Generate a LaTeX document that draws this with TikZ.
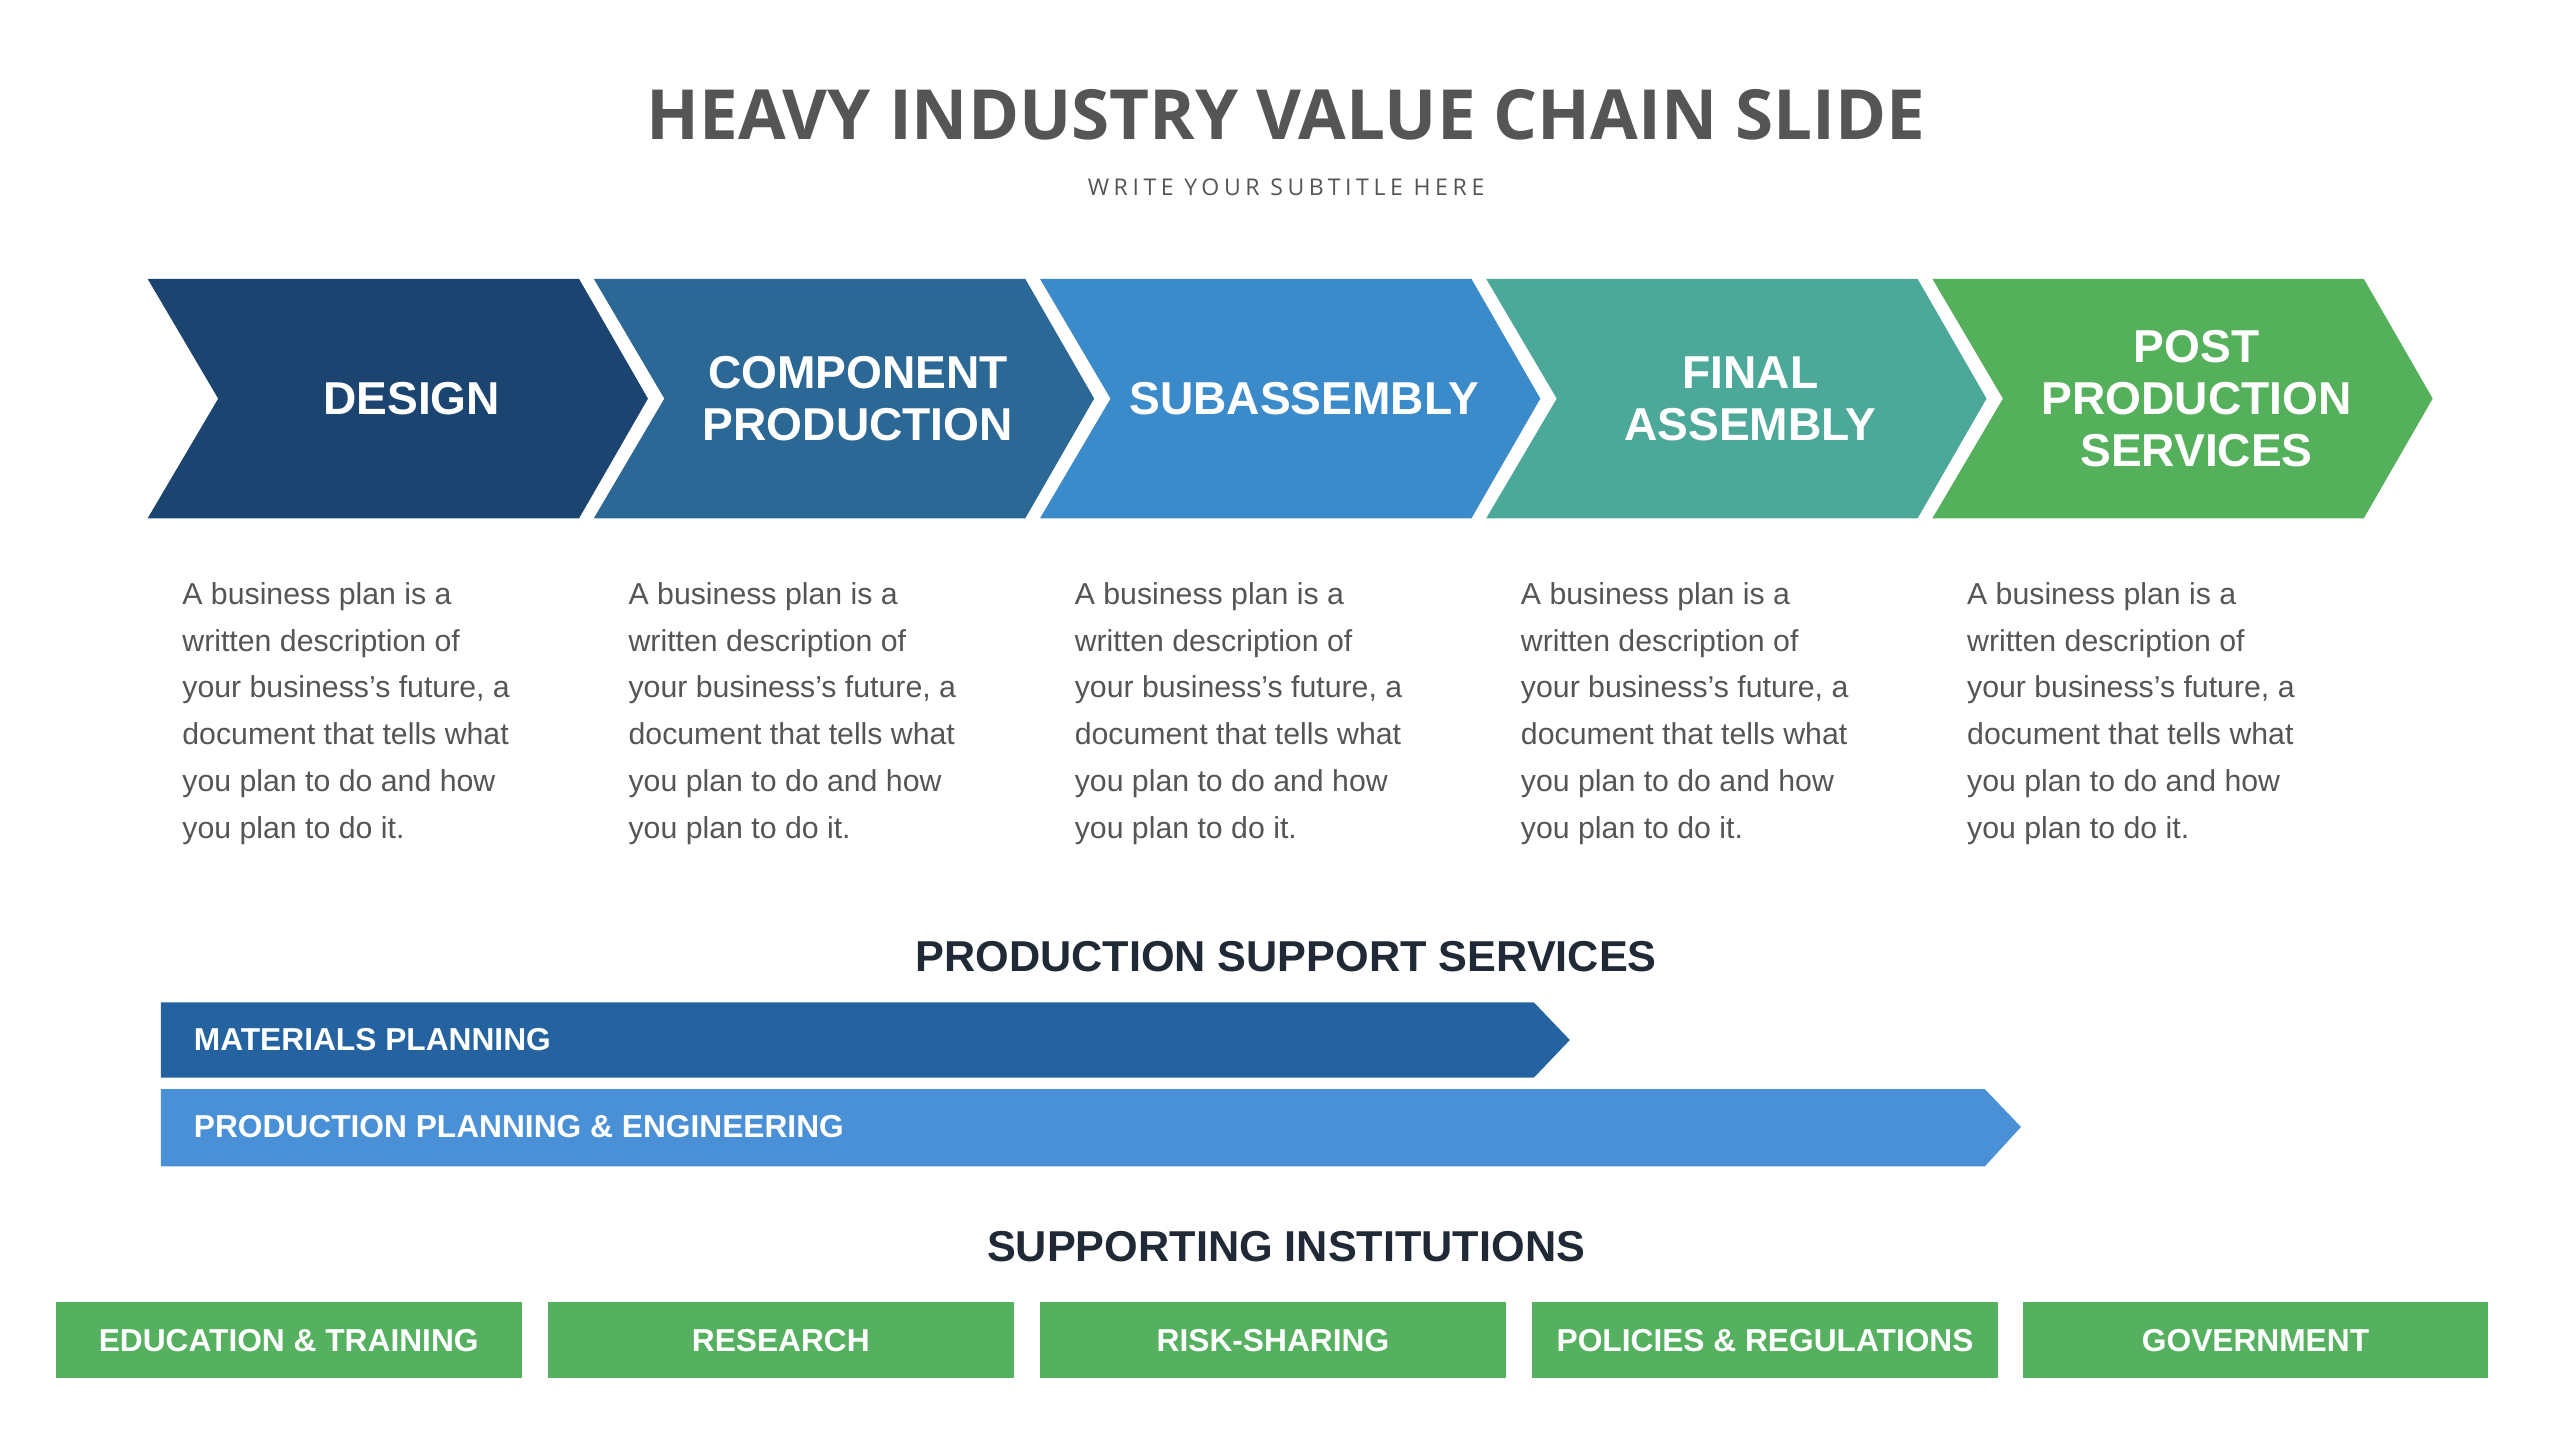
\documentclass[tikz,border=0pt]{standalone}
\usepackage{fontspec}
\setmainfont{Liberation Sans}
\newfontfamily\titlefont{Open Sans}
\usepackage{xcolor}
\usepackage{tikz}
\definecolor{cA}{HTML}{1B4470}
\definecolor{cB}{HTML}{2C6896}
\definecolor{cC}{HTML}{3B8BCB}
\definecolor{cD}{HTML}{4CA99A}
\definecolor{cE}{HTML}{55B05B}
\definecolor{barA}{HTML}{2563A0}
\definecolor{barB}{HTML}{4A90D6}
\definecolor{boxG}{HTML}{55B15F}
\definecolor{bodyGray}{HTML}{555555}
\definecolor{headDark}{HTML}{1F2A36}
\tikzset{
  steplabel/.style={text=white,font=\fontsize{16}{18}\selectfont\bfseries,align=center},
  bodytext/.style={text=bodyGray,font=\fontsize{10.5}{16.2}\selectfont,align=left,anchor=north west},
  barlabel/.style={text=white,font=\fontsize{11}{13}\selectfont\bfseries,anchor=west},
  heading/.style={text=headDark,font=\fontsize{15}{17}\selectfont\bfseries},
  instbox/.style={fill=boxG,text=white,font=\fontsize{11}{13}\selectfont\bfseries,minimum width=284*0.02cm,minimum height=46*0.02cm,inner sep=0pt}
}
\begin{document}
\begin{tikzpicture}[x=0.02cm,y=-0.02cm]
\useasboundingbox (0,0) rectangle (1560,878);
        % title
        \node[text=bodyGray,font=\titlefont\fontsize{24}{28}\selectfont\bfseries] (title) at (784,70) {HEAVY INDUSTRY VALUE CHAIN SLIDE};
        \node[text=bodyGray,font=\titlefont\fontsize{8}{10}\selectfont] (subtitle) at (784,114) {\addfontfeature{LetterSpace=20}WRITE YOUR SUBTITLE HERE};
        % chevrons
        \foreach \i/\c/\t in {0/cA/DESIGN,1/cB/COMPONENT\\PRODUCTION,2/cC/SUBASSEMBLY,3/cD/FINAL\\ASSEMBLY,4/cE/POST\\PRODUCTION\\SERVICES}{
            \pgfmathsetmacro\x{90+272*\i}
            \fill[\c] (\x,170) -- ++(263,0) -- ++(42,73) -- ++(-42,73) -- ++(-263,0) -- ++(43,-73) -- cycle;
            \node[steplabel] (step\i) at (\x+161,243) {\t};
            \node[bodytext] (body\i) at (\x+15,349) {A business plan is a\\written description of\\your business's future, a\\document that tells what\\you plan to do and how\\you plan to do it.};
        }
        % support services
        \node[heading] (support) at (784,583) {PRODUCTION SUPPORT SERVICES};
        \fill[barA] (98,611) -- (935,611) -- (957,634) -- (935,657) -- (98,657) -- cycle;
        \node[barlabel] (materials) at (112,634) {MATERIALS PLANNING};
        \fill[barB] (98,664) -- (1210,664) -- (1232,687) -- (1210,711) -- (98,711) -- cycle;
        \node[barlabel] (engineering) at (112,687) {PRODUCTION PLANNING \& ENGINEERING};
        % institutions
        \node[heading] (inst) at (784,760) {SUPPORTING INSTITUTIONS};
        \foreach \x/\t/\n in {176/EDUCATION \& TRAINING/edu,476/RESEARCH/res,776/RISK-SHARING/risk,1076/POLICIES \& REGULATIONS/pol,1375/GOVERNMENT/gov}
            \node[instbox] (\n) at (\x,817) {\t};
\end{tikzpicture}
\end{document}
